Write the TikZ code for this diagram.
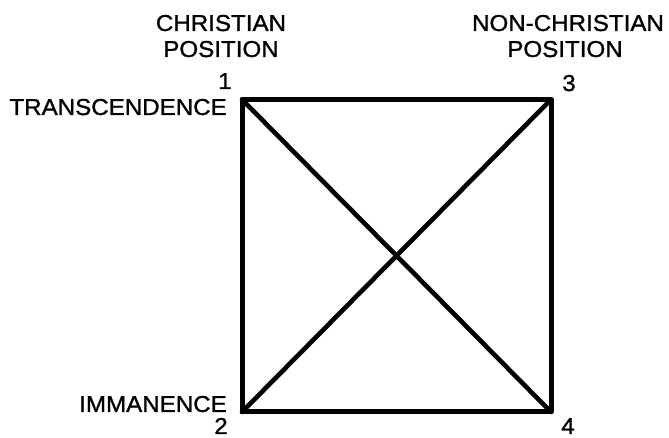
\documentclass[tikz,border=0pt]{standalone}
\usepackage{fontspec}
\newfontfamily\labelfont[FakeStretch=1.05, FakeBold=1.2]{Liberation Sans}
\usepackage{tikz}
\usepackage{tkz-euclide}

\tikzset{lbl/.style={font=\labelfont\fontsize{23}{23}\selectfont, inner sep=0pt, anchor=base}}

\begin{document}
\begin{tikzpicture}[x=1pt, y=1pt]
                \useasboundingbox (0,0) rectangle (669,438);
                \tkzDefPoints{242/338.5/P1, 242/26/P2, 551/338.5/P3, 551/26/P4}
                \tkzDrawPolygon[black, line width=5pt](P1,P3,P4,P2)
                \tkzDrawSegments[black, line width=4.6pt](P1,P4 P2,P3)
                \node[lbl] (chr) at (221,407) {CHRISTIAN};
                \node[lbl] (chrpos) at (221,381) {POSITION};
                \node[lbl] (n1) at (225,349) {1};
                \node[lbl, anchor=base east] (trans) at (227,323) {TRANSCENDENCE};
                \node[lbl] (nonchr) at (568,407) {NON-CHRISTIAN};
                \node[lbl] (nonpos) at (565,381) {POSITION};
                \node[lbl] (n3) at (569,347) {3};
                \node[lbl, anchor=base east] (imm) at (227,26) {IMMANENCE};
                \node[lbl] (n2) at (221,4) {2};
                \node[lbl] (n4) at (568,4) {4};
            \end{tikzpicture}
\end{document}
